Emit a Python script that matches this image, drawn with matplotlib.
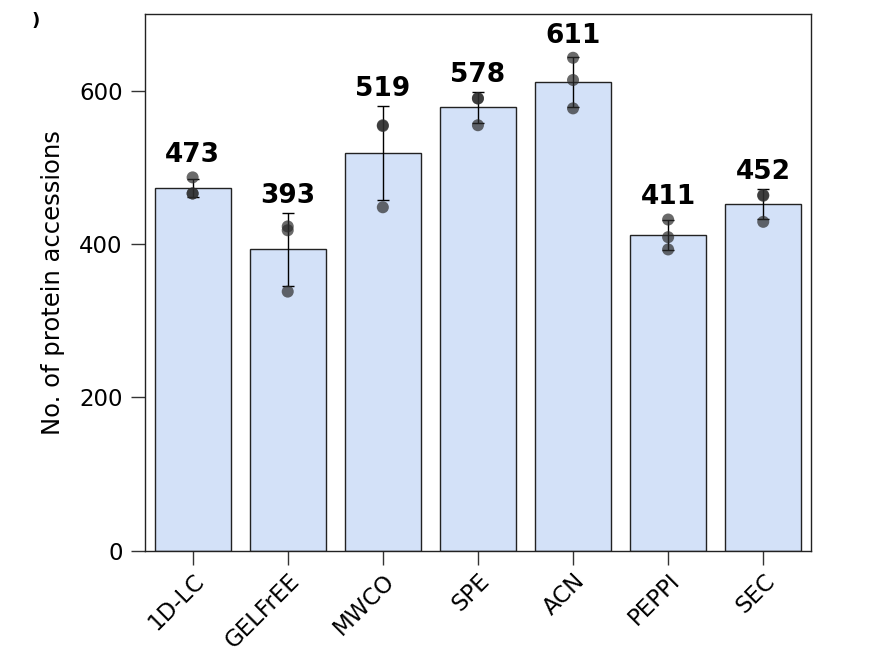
import numpy as np
import matplotlib.pyplot as plt

# Data
methods = ["1D-LC", "GELFrEE", "MWCO", "SPE", "ACN", "PEPPI", "SEC"]
rep1 = [487, 423, 555, 590, 643, 432, 463]
rep2 = [466, 418, 554, 590, 614, 409, 464]
rep3 = [466, 338, 448, 555, 577, 393, 429]

reps = np.array([rep1, rep2, rep3], dtype=float)
means = reps.mean(axis=0)
sds = reps.std(axis=0, ddof=1)
x = np.arange(len(methods))

plt.rcParams['font.family'] = ['DejaVu Sans']

fig = plt.figure(figsize=(8.9, 6.7), dpi=100)
ax = fig.add_axes([0.163, 0.178, 0.748, 0.801])

ax.bar(x, means, width=0.8, color="#d3e1f8", edgecolor="#222222", linewidth=1.0, zorder=1)
ax.errorbar(x, means, yerr=sds, fmt="none", ecolor="black", elinewidth=1.0,
            capsize=4, capthick=1.0, zorder=2)
for r in reps:
    ax.scatter(x, r, s=75, color="#2b2b2b", alpha=0.7, edgecolors="none", zorder=3)

# value labels above the bars
for xi, m, s, col in zip(x, means, sds, reps.T):
    top = max(m + s, col.max() + 7)
    ax.text(xi, top + 5, f"{int(round(m))}", ha="center", va="bottom",
            fontsize=19, fontweight="heavy", color="black")

ax.set_xlim(-0.5, len(methods) - 0.5)
ax.set_ylim(0, 700)
ax.set_yticks([0, 200, 400, 600])
ax.set_xticks(x)
ax.set_xticklabels(methods, rotation=45, ha="right", rotation_mode="anchor")
ax.tick_params(axis="both", labelsize=16.5, length=10, width=1, color="#333333")
ax.tick_params(axis="y", pad=6)
ax.set_ylabel("No. of protein accessions", fontsize=17.5, labelpad=10)
for sp in ax.spines.values():
    sp.set_linewidth(1.0)
    sp.set_color("#222222")

fig.text(0.040, 0.968, ")", fontsize=13, fontweight="bold", ha="center", va="center")

fig.savefig("out.png", dpi=100)
